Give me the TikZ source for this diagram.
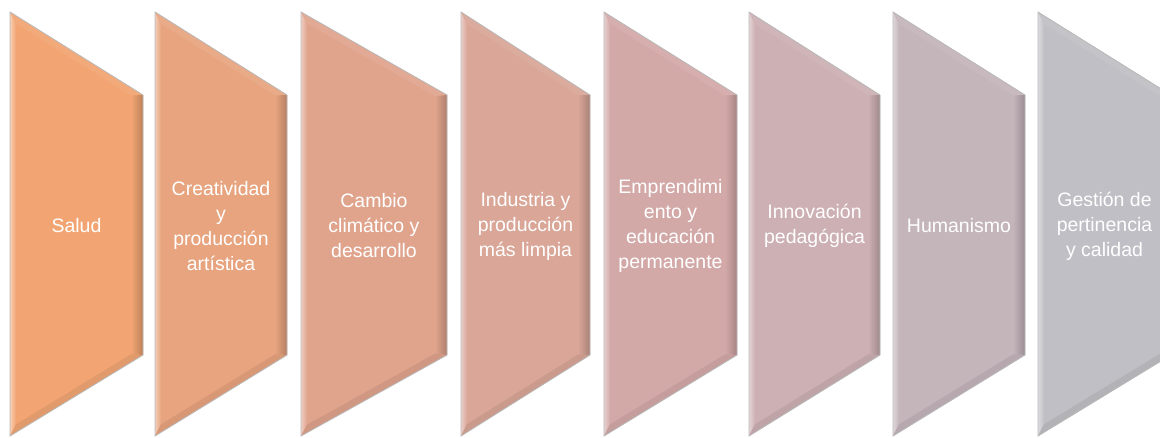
\documentclass[tikz,border=0pt]{standalone}
\usepackage{fontspec}
\setmainfont{Liberation Sans}
\begin{document}
\begin{tikzpicture}[x=1pt,y=-1pt,
  lbl/.style={text=white, align=center, font=\fontsize{19.5}{25}\selectfont, inner sep=0pt},
  edge/.style={draw=gray!55, line width=0.8pt}]
\useasboundingbox (0,0) rectangle (1160,437);
\definecolor{c1}{HTML}{F2A573}
\definecolor{c2}{HTML}{E8A47F}
\definecolor{c3}{HTML}{E0A48D}
\definecolor{c4}{HTML}{D9A698}
\definecolor{c5}{HTML}{D3A9A8}
\definecolor{c6}{HTML}{CDB0B3}
\definecolor{c7}{HTML}{C4B5BB}
\definecolor{c8}{HTML}{C0BFC5}
\newcommand\chevshape[5]{%
  \pgfmathsetmacro\sa{83/(#2-#1)}%
  \pgfmathsetmacro\sb{81/(#2-#1)}%
  \coordinate (#4A) at (#1,12);
  \coordinate (#4B) at (#2,95);
  \coordinate (#4C) at (#2,355);
  \coordinate (#4D) at (#1,436);
  \coordinate (#4a) at (#1+6,12+6*\sa+8);
  \coordinate (#4b) at (#2-12,95-12*\sa+8);
  \coordinate (#4c) at (#2-12,355+12*\sb-8);
  \coordinate (#4d) at (#1+6,436-6*\sb-8);
  \fill[#3] (#4A) -- (#4B) -- (#4C) -- (#4D) -- cycle;
  \shade[left color=#3!55!white, right color=#3] (#4A) -- (#4a) -- (#4d) -- (#4D) -- cycle;
  \fill[#3!94!white] (#4A) -- (#4B) -- (#4b) -- (#4a) -- cycle;
  \shade[left color=#3, right color=#3!78!black] (#4B) -- (#4C) -- (#4c) -- (#4b) -- cycle;
  \fill[#3!93!black] (#4C) -- (#4D) -- (#4d) -- (#4c) -- cycle;
  \path[edge] (#4A) -- (#4B) -- (#4C) -- (#4D) -- cycle;
  \node[lbl] (#4) at ({(#1+#2)/2},226) {#5};
}
\chevshape{10}{143}{c1}{s1}{Salud}
\chevshape{155}{287}{c2}{s2}{Creatividad\\y\\producción\\artística}
\chevshape{301}{447}{c3}{s3}{Cambio\\climático y\\desarrollo}
\chevshape{461}{590}{c4}{s4}{Industria y\\producción\\más limpia}
\chevshape{604}{737}{c5}{s5}{Emprendimi\\ento y\\educación\\permanente}
\chevshape{749}{880}{c6}{s6}{Innovación\\pedagógica}
\chevshape{893}{1025}{c7}{s7}{Humanismo}
\chevshape{1038}{1171}{c8}{s8}{Gestión de\\pertinencia\\y calidad}
\end{tikzpicture}
\end{document}
